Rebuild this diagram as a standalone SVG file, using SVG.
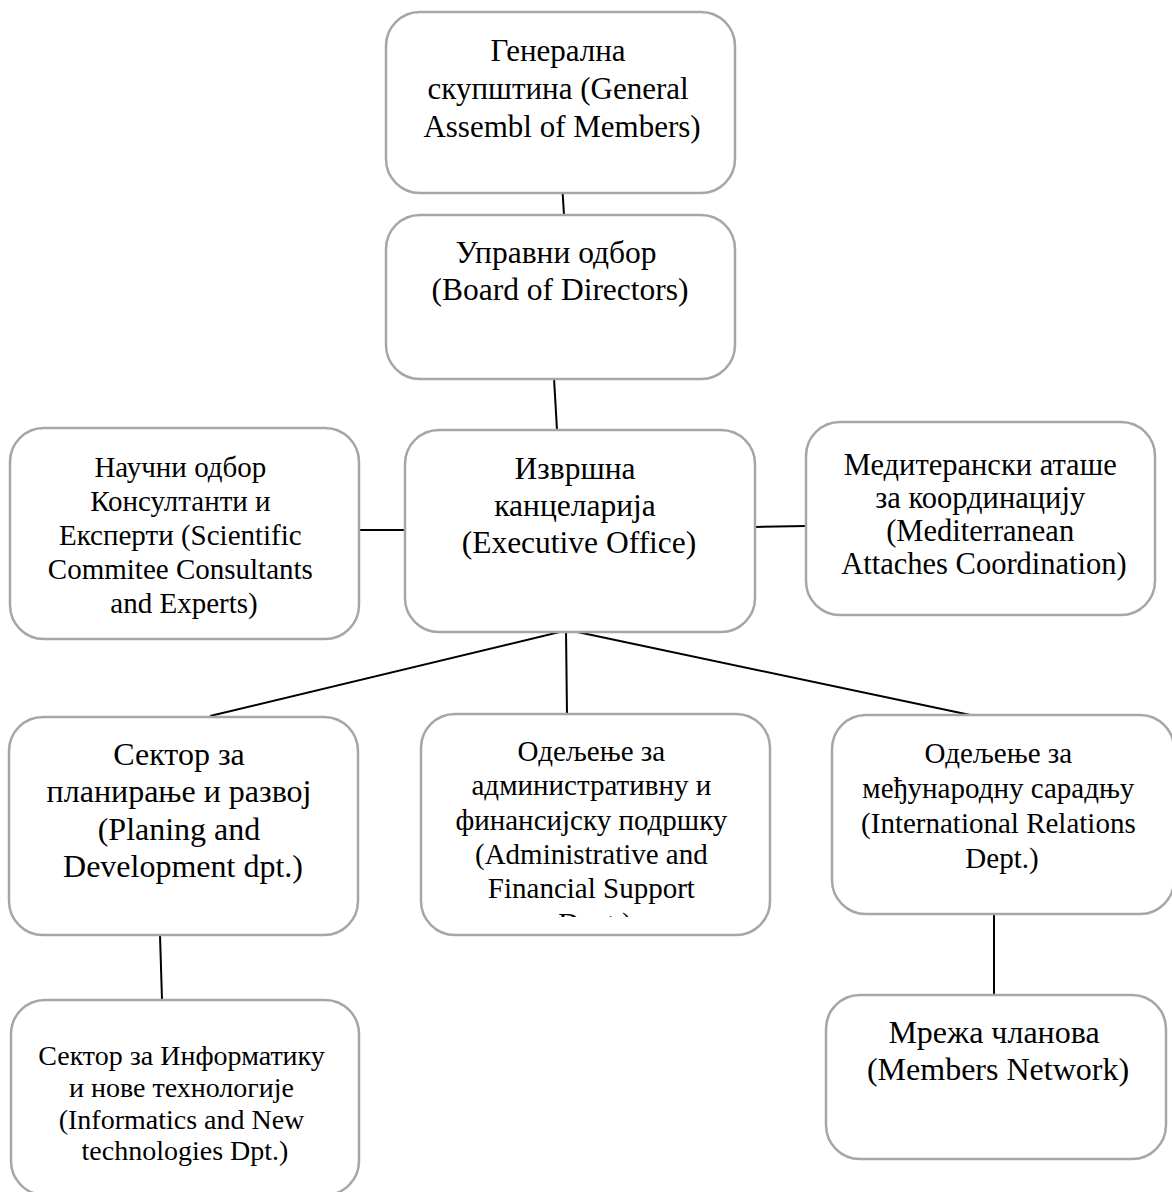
<svg xmlns="http://www.w3.org/2000/svg" width="1172" height="1192" viewBox="0 0 1172 1192">
  <defs>
    <style>
      .box { fill: #ffffff; stroke: #a6a6a6; stroke-width: 2.5; }
      .lbl { font-family: "Liberation Serif", "Times New Roman", serif; fill: #000000; text-anchor: middle; }
      .link { stroke: #000000; stroke-width: 2; fill: none; stroke-linecap: butt; }
    </style>
    <clipPath id="adminClip">
      <rect x="421" y="714" width="349" height="203"/>
    </clipPath>
  </defs>
  <rect x="0" y="0" width="1172" height="1192" fill="#ffffff"/>

  <!-- connectors -->
  <g id="connectors">
    <line class="link" x1="562" y1="183" x2="564" y2="215"/>
    <line class="link" x1="554" y1="378" x2="557" y2="430"/>
    <line class="link" x1="358" y1="530" x2="406" y2="530"/>
    <path class="link" d="M754 522 L755 527 L806 526"/>
    <line class="link" x1="568" y1="630" x2="210" y2="716"/>
    <line class="link" x1="566" y1="630" x2="567" y2="715"/>
    <line class="link" x1="568" y1="630" x2="975" y2="716"/>
    <path class="link" d="M566 629 L573 629"/>
    <line class="link" x1="160" y1="935" x2="162" y2="1000"/>
    <line class="link" x1="994" y1="914" x2="994" y2="995"/>
  </g>

  <g id="general-assembly">
    <rect class="box" x="386" y="12" width="349" height="181" rx="34"/>
    <text class="lbl" font-size="31">
      <tspan x="562" y="61">Генерална</tspan>
      <tspan x="562" y="99">скупштина (General</tspan>
      <tspan x="562" y="137">Assembl of Members)</tspan>
    </text>
  </g>

  <g id="board-of-directors">
    <rect class="box" x="386" y="215" width="349" height="164" rx="34"/>
    <text class="lbl" font-size="31.5">
      <tspan x="560" y="263">Управни одбор</tspan>
      <tspan x="560" y="300">(Board of Directors)</tspan>
    </text>
  </g>

  <g id="executive-office">
    <rect class="box" x="405" y="430" width="350" height="202" rx="34"/>
    <text class="lbl" font-size="31.5">
      <tspan x="579" y="479">Извршна</tspan>
      <tspan x="579" y="516">канцеларија</tspan>
      <tspan x="579" y="553">(Executive Office)</tspan>
    </text>
  </g>

  <g id="scientific-committee">
    <rect class="box" x="10" y="428" width="349" height="211" rx="34"/>
    <text class="lbl" font-size="29">
      <tspan x="184" y="477">Научни одбор</tspan>
      <tspan x="184" y="511">Консултанти и</tspan>
      <tspan x="184" y="545">Експерти (Scientific</tspan>
      <tspan x="184" y="579">Commitee Consultants</tspan>
      <tspan x="184" y="613">and Experts)</tspan>
    </text>
  </g>

  <g id="mediterranean-attaches">
    <rect class="box" x="806" y="422" width="349" height="193" rx="34"/>
    <text class="lbl" font-size="30.5">
      <tspan x="984" y="475">Медитерански аташе</tspan>
      <tspan x="984" y="508">за координацију</tspan>
      <tspan x="984" y="541">(Mediterranean</tspan>
      <tspan x="984" y="574">Attaches Coordination)</tspan>
    </text>
  </g>

  <g id="planning-development">
    <rect class="box" x="9" y="717" width="349" height="218" rx="34"/>
    <text class="lbl" font-size="32">
      <tspan x="183" y="765">Сектор за</tspan>
      <tspan x="183" y="802">планирање и развој</tspan>
      <tspan x="183" y="840">(Planing and</tspan>
      <tspan x="183" y="877">Development dpt.)</tspan>
    </text>
  </g>

  <g id="administrative-financial">
    <rect class="box" x="421" y="714" width="349" height="221" rx="34"/>
    <text class="lbl" font-size="29" clip-path="url(#adminClip)">
      <tspan x="595" y="761">Одељење за</tspan>
      <tspan x="595" y="795">административну и</tspan>
      <tspan x="595" y="830">финансијску подршку</tspan>
      <tspan x="595" y="864">(Administrative and</tspan>
      <tspan x="595" y="898">Financial Support</tspan>
      <tspan x="595" y="933">Dept.)</tspan>
    </text>
  </g>

  <g id="international-relations">
    <rect class="box" x="832" y="715" width="342" height="199" rx="34"/>
    <text class="lbl" font-size="29">
      <tspan x="1002" y="763">Одељење за</tspan>
      <tspan x="1002" y="798">међународну сарадњу</tspan>
      <tspan x="1002" y="833">(International Relations</tspan>
      <tspan x="1002" y="868">Dept.)</tspan>
    </text>
  </g>

  <g id="informatics-technologies">
    <rect class="box" x="11" y="1000" width="348" height="195" rx="34"/>
    <text class="lbl" font-size="28">
      <tspan x="185" y="1065">Сектор за Информатику</tspan>
      <tspan x="185" y="1097">и нове технологије</tspan>
      <tspan x="185" y="1129">(Informatics and New</tspan>
      <tspan x="185" y="1160">technologies Dpt.)</tspan>
    </text>
  </g>

  <g id="members-network">
    <rect class="box" x="826" y="995" width="340" height="164" rx="34"/>
    <text class="lbl" font-size="32">
      <tspan x="998" y="1043">Мрежа чланова</tspan>
      <tspan x="998" y="1080">(Members Network)</tspan>
    </text>
  </g>
</svg>
